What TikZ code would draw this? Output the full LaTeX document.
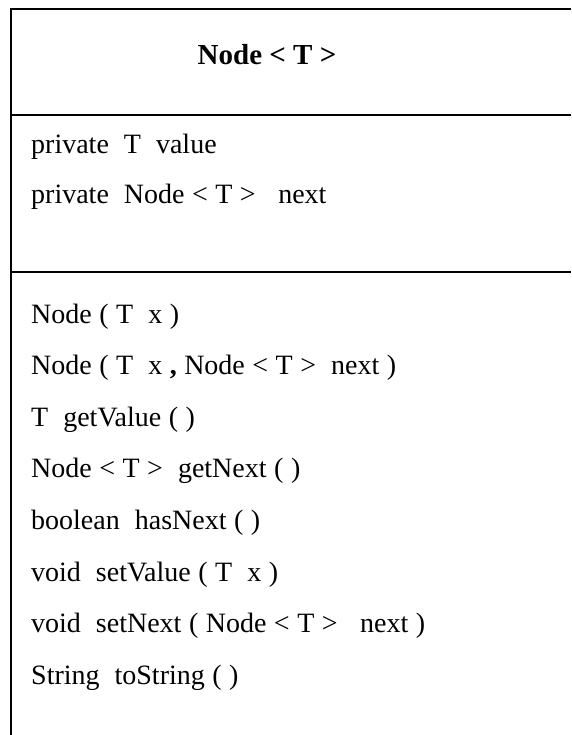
\documentclass[tikz,border=0pt]{standalone}
\usepackage{fontspec}
\setmainfont{Liberation Serif}
% member text and class name sizes
\newcommand\memberfont{\fontsize{28}{33}\selectfont\spaceskip=7.5pt\relax}
\newcommand\classfont{\fontsize{29}{34}\selectfont\bfseries}
\begin{document}
\begin{tikzpicture}[x=1pt,y=-1pt,
  rule/.style={line width=2pt,black},
  member/.style={anchor=base west,inner sep=0pt,font=\memberfont},
  classname/.style={anchor=base,inner sep=0pt,font=\classfont}]
\useasboundingbox (0,0) rectangle (571,735);

% frame of the class box (open on the right and at the bottom)
\coordinate (topL) at (11,9);
\coordinate (topR) at (571,9);
\coordinate (botL) at (11,735);
\coordinate (hdrL) at (11,115);
\coordinate (hdrR) at (571,115);
\coordinate (attL) at (11,272);
\coordinate (attR) at (571,272);

\draw[rule] (topR) -- (topL) -- (botL);
\draw[rule] (hdrL) -- (hdrR);
\draw[rule] (attL) -- (attR);

% class name
\node[classname] (name) at (267,65) {Node < T >};

% attributes
\node[member] (a1) at (31,154) {private\ \ T\ \ value};
\node[member] (a2) at (31,204) {private\ \ Node < T >\ \ \ next};

% methods
\node[member] (m1) at (31,323) {Node ( T\ \ x )};
\node[member] (m2) at (31,374.6) {Node ( T\ \ x \textbf{,} Node < T >\ \ next )};
\node[member] (m3) at (31,426.2) {T\ \ getValue ( )};
\node[member] (m4) at (31,477.8) {Node < T >\ \ getNext ( )};
\node[member] (m5) at (31,529.4) {boolean\ \ hasNext ( )};
\node[member] (m6) at (31,581) {void\ \ setValue ( T\ \ x )};
\node[member] (m7) at (31,632.6) {void\ \ setNext ( Node < T >\ \ \ next )};
\node[member] (m8) at (31,684.2) {String\ \ toString ( )};
\end{tikzpicture}
\end{document}
